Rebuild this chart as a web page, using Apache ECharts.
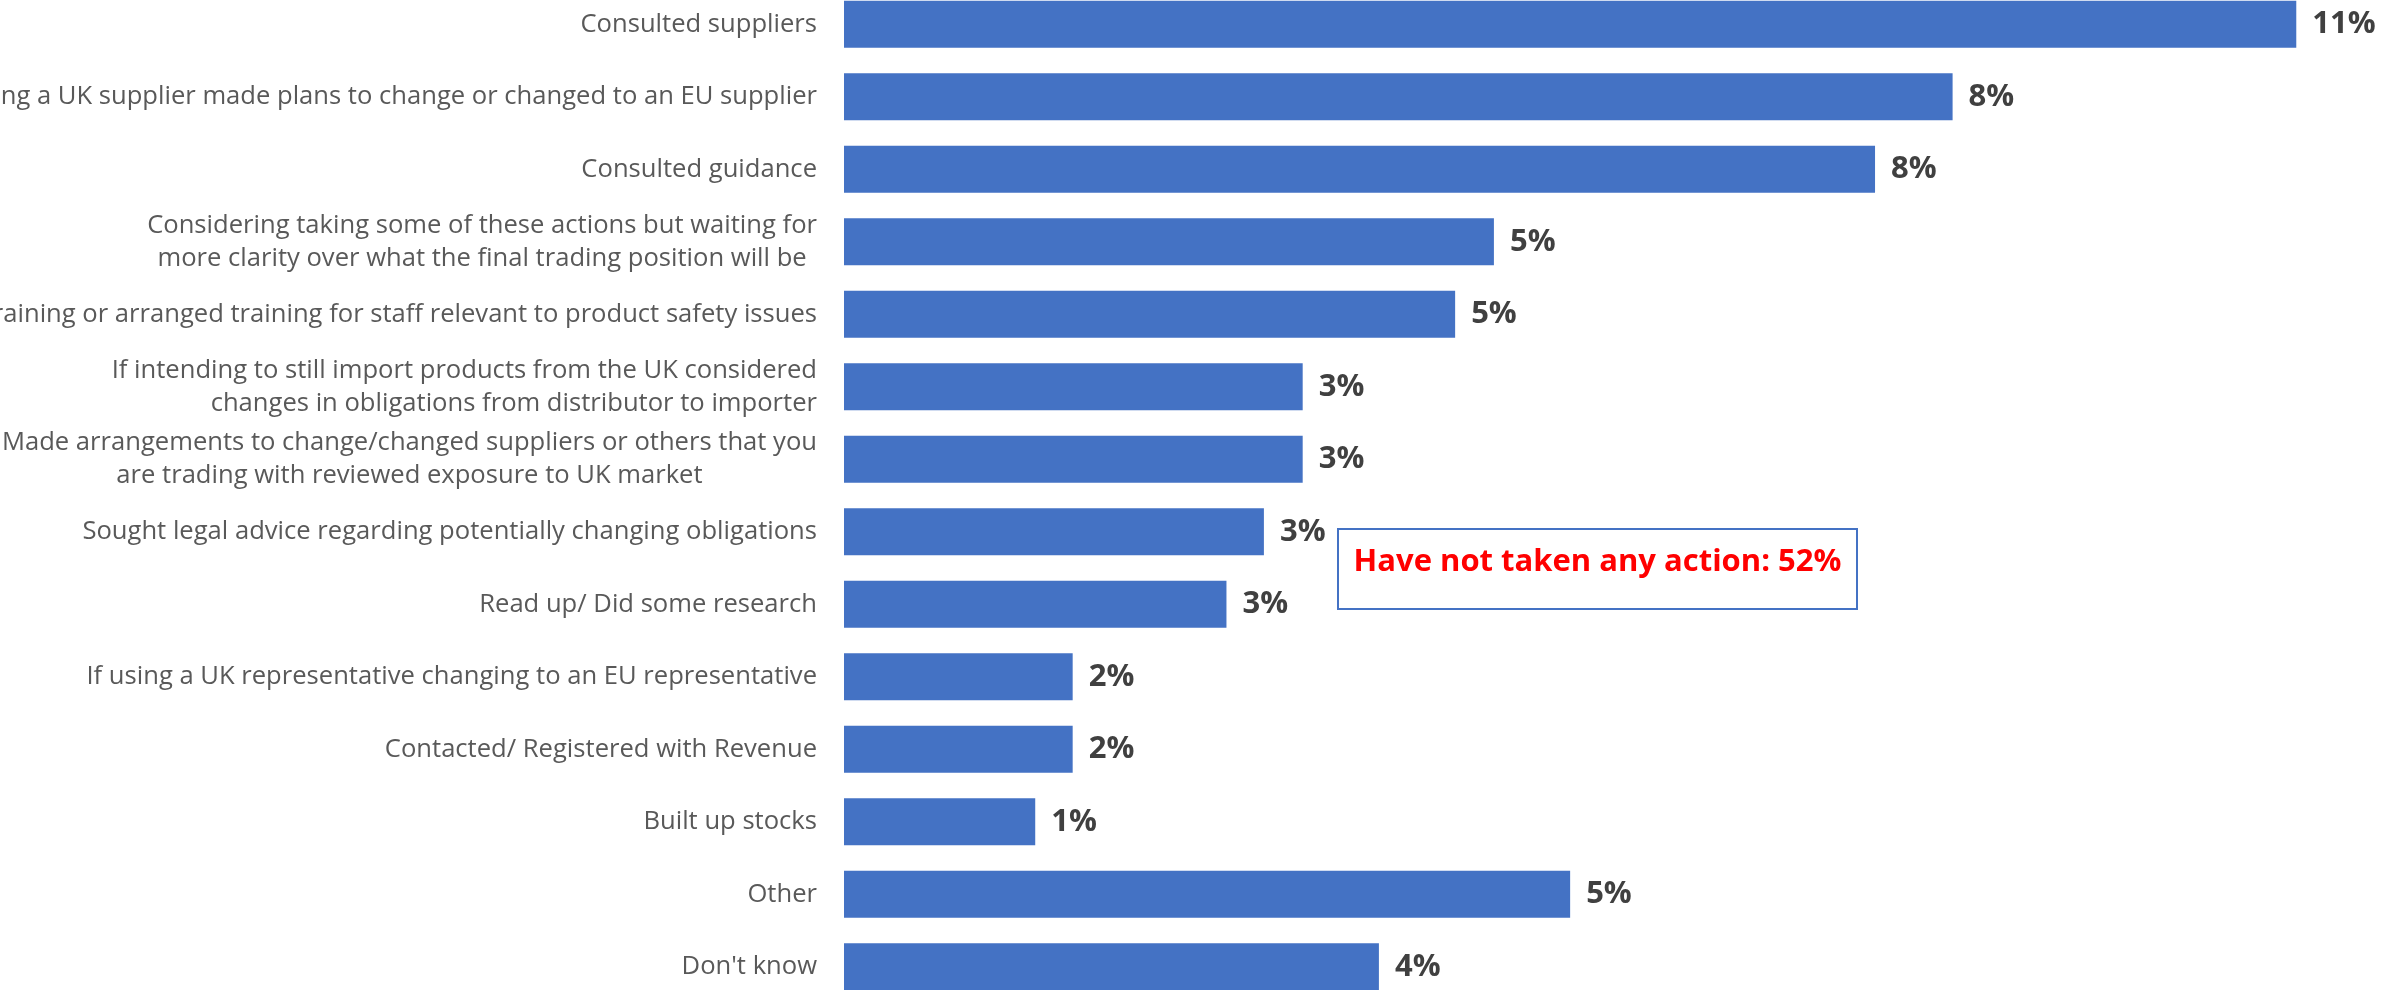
<!DOCTYPE html>
<html>
<head>
<meta charset="utf-8">
<script src="https://cdn.jsdelivr.net/npm/echarts@6/dist/echarts.min.js"></script>
<style>
  html, body { margin: 0; padding: 0; background: #ffffff; }
  #chart { width: 2381px; height: 990px; }
</style>
</head>
<body>
<div id="chart"></div>
<script>
// Actions taken in preparation for the UK's exit (share of respondents, %)
const categories = [
  'Consulted suppliers',
  'If using a UK supplier made plans to change or changed to an EU supplier',
  'Consulted guidance',
  'Considering taking some of these actions but waiting for\nmore clarity over what the final trading position will be',
  'Provided training or arranged training for staff relevant to product safety issues',
  'If intending to still import products from the UK considered\nchanges in obligations from distributor to importer',
  'Made arrangements to change/changed suppliers or others that you\nare trading with reviewed exposure to UK market',
  'Sought legal advice regarding potentially changing obligations',
  'Read up/ Did some research',
  'If using a UK representative changing to an EU representative',
  'Contacted/ Registered with Revenue',
  'Built up stocks',
  'Other',
  "Don't know"
];
const shares = [10.86, 8.29, 7.71, 4.86, 4.57, 3.43, 3.43, 3.14, 2.86, 1.71, 1.71, 1.43, 5.43, 4.00];
const noActionShare = 52;
const noActionText = 'Have not taken any action: ' + noActionShare + '%';

// two-line labels whose lines are centred on each other
const centredLabels = new Set([categories[3], categories[6]]);

const FONT = "'Open Sans', 'Liberation Sans', sans-serif";
const LABEL_SIZE = 25.6;
const chart = echarts.init(document.getElementById('chart'), null, { renderer: 'canvas' });

chart.setOption({
  animation: false,
  backgroundColor: '#ffffff',
  grid: {
    left: 844, right: 66, top: -12, bottom: -13,
    containLabel: false, outerBoundsMode: 'none'
  },
  xAxis: {
    type: 'value', min: 0, max: 11,
    axisLine: { show: false }, axisTick: { show: false },
    axisLabel: { show: false }, splitLine: { show: false }
  },
  yAxis: {
    type: 'category', inverse: true, data: categories,
    axisLine: { show: false }, axisTick: { show: false },
    axisLabel: {
      margin: 27, align: 'right', interval: 0, hideOverlap: false,
      fontFamily: FONT, fontSize: LABEL_SIZE, color: '#595959', lineHeight: 33,
      formatter: function (value) {
        if (value.indexOf('\n') < 0) return value;
        const style = centredLabels.has(value) ? 'c' : 'r';
        return value.split('\n').map(line => '{' + style + '|' + line + '}').join('\n');
      },
      rich: {
        c: { align: 'center', fontFamily: FONT, fontSize: LABEL_SIZE, color: '#595959', lineHeight: 33 },
        r: { align: 'right', fontFamily: FONT, fontSize: LABEL_SIZE, color: '#595959', lineHeight: 33 }
      }
    }
  },
  series: [{
    type: 'bar',
    data: shares,
    barCategoryGap: '35%',
    itemStyle: { color: '#4472C4' },
    label: {
      show: true, position: 'right', distance: 16,
      fontFamily: FONT, fontSize: 31, fontWeight: 'bold', color: '#404040',
      formatter: p => Math.round(p.value) + '%'
    }
  }],
  graphic: [{
    type: 'group', left: 1337, top: 528,
    children: [
      { type: 'rect', shape: { x: 0, y: 0, width: 519, height: 80 },
        style: { fill: '#ffffff', stroke: '#4472C4', lineWidth: 2 } },
      { type: 'text', x: 259.5, y: 33,
        style: { text: noActionText, fill: '#FF0000', fontFamily: FONT, fontSize: 31,
                 fontWeight: 'bold', align: 'center', verticalAlign: 'middle' } }
    ]
  }]
});
</script>
</body>
</html>
